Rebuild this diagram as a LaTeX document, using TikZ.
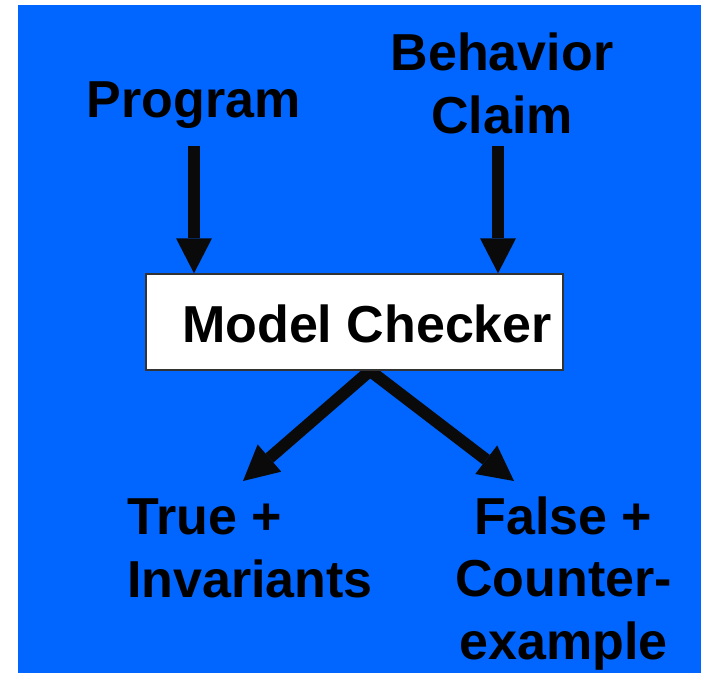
\documentclass[tikz,border=0pt]{standalone}
\usepackage{fontspec}
\setmainfont{Liberation Sans}
\usetikzlibrary{arrows.meta}
\definecolor{bgblue}{HTML}{0066FF}
\definecolor{ink}{HTML}{0A0A0A}
\pgfdeclarelayer{bg}
\pgfdeclarelayer{arrowlayer}
\pgfsetlayers{bg,arrowlayer,main}
\begin{document}
\begin{tikzpicture}[x=1pt,y=-1pt,
  lbl/.style={font=\fontsize{52}{63}\selectfont\bfseries, text=black, inner sep=0pt},
  arr/.style={draw=ink, line width=12pt, -{Triangle[length=35pt,width=36pt,line width=0pt]}},
  box/.style={draw=black!80, line width=1.5pt, fill=white, minimum width=417pt, minimum height=96pt, inner sep=0pt}]
\useasboundingbox (0,0) rectangle (701,673);
\begin{pgfonlayer}{bg}
\fill[white] (0,0) rectangle (701,673);
\fill[bgblue] (18,5) rectangle (701,673);
\end{pgfonlayer}
\node[box] (mc) at (354.5,322) {};
\node[lbl, anchor=base west] (mct) at (182,342) {Model Checker};
\node[lbl, anchor=base] (prog) at (193.5,117) {Program};
\node[lbl, anchor=base, align=center] (beh) at (502,133) {Behavior\\Claim};
\node[lbl, anchor=base west, align=left] (tru) at (127,597) {True +\\Invariants};
\node[lbl, anchor=base, align=center, font=\fontsize{52}{62.5}\selectfont\bfseries] (fal) at (563.5,659) {False +\\Counter-\\example};
\coordinate (pin) at (194,146);
\coordinate (bin) at (498,146);
\coordinate (tl) at (243,481);
\coordinate (tr) at (514,481);
\begin{pgfonlayer}{arrowlayer}
\draw[arr] (pin) -- (pin |- mc.north);
\draw[arr] (bin) -- (bin |- mc.north);
\draw[arr] ([xshift=15.5pt]mc.south) -- (tl);
\draw[arr] ([xshift=15.5pt]mc.south) -- (tr);
\end{pgfonlayer}
\end{tikzpicture}
\end{document}
